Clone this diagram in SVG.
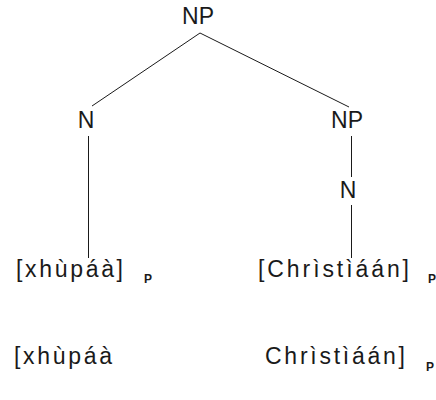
<svg xmlns="http://www.w3.org/2000/svg" width="436" height="400" viewBox="0 0 436 400">
  <style>
    .lbl { font-family: "Liberation Sans", Arial, sans-serif; font-size: 23px; fill: #1a1a1a; }
    .mid { text-anchor: middle; }
    .sub { font-family: "Liberation Sans", Arial, sans-serif; font-size: 12px; font-weight: bold; fill: #1a1a1a; }
    .edge { stroke: #1a1a1a; stroke-width: 1; fill: none; }
  </style>
  <rect width="436" height="400" fill="#ffffff"/>

  <!-- tree branches -->
  <g id="connectors">
    <line class="edge" x1="200" y1="33" x2="92" y2="106"/>
    <line class="edge" x1="200" y1="33" x2="349" y2="107"/>
    <line class="edge" x1="88.5" y1="136" x2="88.5" y2="258"/>
    <line class="edge" x1="351.5" y1="136" x2="351.5" y2="177"/>
    <line class="edge" x1="351.5" y1="205" x2="351.5" y2="258"/>
  </g>

  <g id="np-root"><text class="lbl mid" x="198" y="24">NP</text></g>
  <g id="n-left"><text class="lbl mid" x="86" y="128">N</text></g>
  <g id="np-right"><text class="lbl mid" x="347" y="128">NP</text></g>
  <g id="n-right"><text class="lbl mid" x="348" y="198">N</text></g>

  <g id="leaf-left">
    <text class="lbl" x="16" y="277" textLength="107" lengthAdjust="spacing">[xhùpáà]</text>
    <text class="sub" x="144" y="283">P</text>
  </g>
  <g id="leaf-right">
    <text class="lbl" x="258" y="277" textLength="151" lengthAdjust="spacing">[Chrìstìáán]</text>
    <text class="sub" x="428" y="283">P</text>
  </g>

  <g id="surface-left">
    <text class="lbl" x="14" y="364" textLength="98" lengthAdjust="spacing">[xhùpáà</text>
  </g>
  <g id="surface-right">
    <text class="lbl" x="265" y="364" textLength="140" lengthAdjust="spacing">Chrìstìáán]</text>
    <text class="sub" x="426" y="371">P</text>
  </g>
</svg>
